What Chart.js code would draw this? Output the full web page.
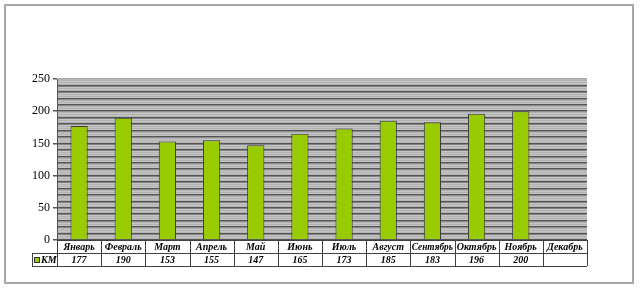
<!DOCTYPE html>
<html>
<head>
<meta charset="utf-8">
<script src="https://cdn.jsdelivr.net/npm/chart.js@4.4.1/dist/chart.umd.min.js"></script>
<style>
  html, body { margin: 0; padding: 0; background: #fff; }
  #wrap { width: 641px; height: 292px; }
</style>
</head>
<body>
<div id="wrap"><canvas id="kmChart" width="641" height="292"></canvas></div>
<script>
// data
const months = ["Январь", "Февраль", "Март", "Апрель", "Май", "Июнь",
    "Июль", "Август", "Сентябрь", "Октябрь", "Ноябрь", "Декабрь"];
const km = [177, 190, 153, 155, 147, 165, 173, 185, 183, 196, 200, null];
const seriesName = "КМ";
const yTicks = [0, 50, 100, 150, 200, 250];

const serif = "'Liberation Serif', 'Times New Roman', serif";
const barGreen = "#99cc00";

var ctx = document.getElementById("kmChart").getContext("2d");

const frameAndTable = {
    id: "frameAndTable",
    beforeDraw: function (chart) {
        const c = chart.ctx;
        const a = chart.chartArea;
        c.save();
        c.fillStyle = "#ffffff";
        c.fillRect(0, 0, chart.width, chart.height);
        // outer frame
        c.strokeStyle = "#a6a6a6";
        c.lineWidth = 2;
        c.strokeRect(5, 5, 628, 278);
        // plot area fill, fine stripes like the excel pattern
        c.fillStyle = "#c4c4c4";
        c.fillRect(a.left, a.top, a.right - a.left, a.bottom - a.top);
        c.fillStyle = "#a9a9a9";
        for (let yy = a.top + 1; yy < a.bottom; yy += 2) {
            c.fillRect(a.left, yy, a.right - a.left, 0.6);
        }
        c.restore();
    },
    afterDraw: function (chart) {
        const c = chart.ctx;
        const a = chart.chartArea;
        const x = chart.scales.x;
        const w = (a.right - a.left) / months.length;
        const top = a.bottom;
        const rowH = 13;
        c.save();
        c.strokeStyle = "#404040";
        c.lineWidth = 1;
        // horizontal lines
        c.beginPath();
        c.moveTo(a.left, top + 0.5);
        c.lineTo(a.right, top + 0.5);
        c.moveTo(32, top + rowH + 0.5);
        c.lineTo(a.right, top + rowH + 0.5);
        c.moveTo(32, top + 2 * rowH + 0.5);
        c.lineTo(a.right, top + 2 * rowH + 0.5);
        // vertical lines
        for (let i = 0; i <= months.length; i++) {
            const lx = Math.round(a.left + i * w) + 0.5;
            c.moveTo(lx, top);
            c.lineTo(lx, top + 2 * rowH);
        }
        c.moveTo(32.5, top + rowH);
        c.lineTo(32.5, top + 2 * rowH);
        c.stroke();

        c.fillStyle = "#000";
        c.font = "italic bold 10px " + serif;
        c.textAlign = "center";
        c.textBaseline = "middle";
        months.forEach(function (m, i) {
            const cx = x.getPixelForValue(i);
            c.fillText(m, cx, top + rowH / 2 + 1, w - 3);
            if (km[i] !== null) {
                c.fillText(String(km[i]), cx, top + rowH * 1.5 + 1);
            }
        });
        // legend key
        c.fillStyle = barGreen;
        c.fillRect(34.5, top + rowH + 4.5, 5, 5);
        c.strokeStyle = "#333";
        c.strokeRect(34.5, top + rowH + 4.5, 5, 5);
        c.fillStyle = "#000";
        c.textAlign = "left";
        c.fillText(seriesName, 41, top + rowH * 1.5 + 1);
        c.restore();
    },
};

var kmChart = new Chart(ctx, {
    type: "bar",
    data: {
        labels: months,
        datasets: [
            {
                label: seriesName,
                data: km,
                backgroundColor: barGreen,
                borderColor: "#3a3a3a",
                borderWidth: 1,
                barPercentage: 0.39,
                categoryPercentage: 1,
            },
        ],
    },
    options: {
        responsive: false,
        maintainAspectRatio: false,
        animation: false,
        layout: {
            padding: { left: 0, top: 79, right: 54, bottom: 52 },
        },
        plugins: {
            legend: { display: false },
            tooltip: { enabled: false },
        },
        scales: {
            x: {
                display: false,
                grid: { display: false },
            },
            y: {
                min: 0,
                max: 250,
                afterFit: function (scale) {
                    scale.width = 57;
                },
                ticks: {
                    stepSize: 10,
                    autoSkip: false,
                    color: "#000",
                    font: { family: serif, size: 12 },
                    padding: 3,
                    callback: function (v) {
                        return yTicks.includes(v) ? String(v) : "";
                    },
                },
                grid: {
                    drawTicks: true,
                    tickLength: 4,
                    lineWidth: 1.5,
                    color: function (c) {
                        if (c.tick && c.tick.value === 250) return "#a8a8a8";
                        return "#555555";
                    },
                    tickColor: function (c) {
                        return c.tick && yTicks.includes(c.tick.value)
                            ? "#555555"
                            : "rgba(0,0,0,0)";
                    },
                },
                border: { display: true, color: "#555555", width: 1 },
            },
        },
    },
    plugins: [frameAndTable],
});
</script>
</body>
</html>
